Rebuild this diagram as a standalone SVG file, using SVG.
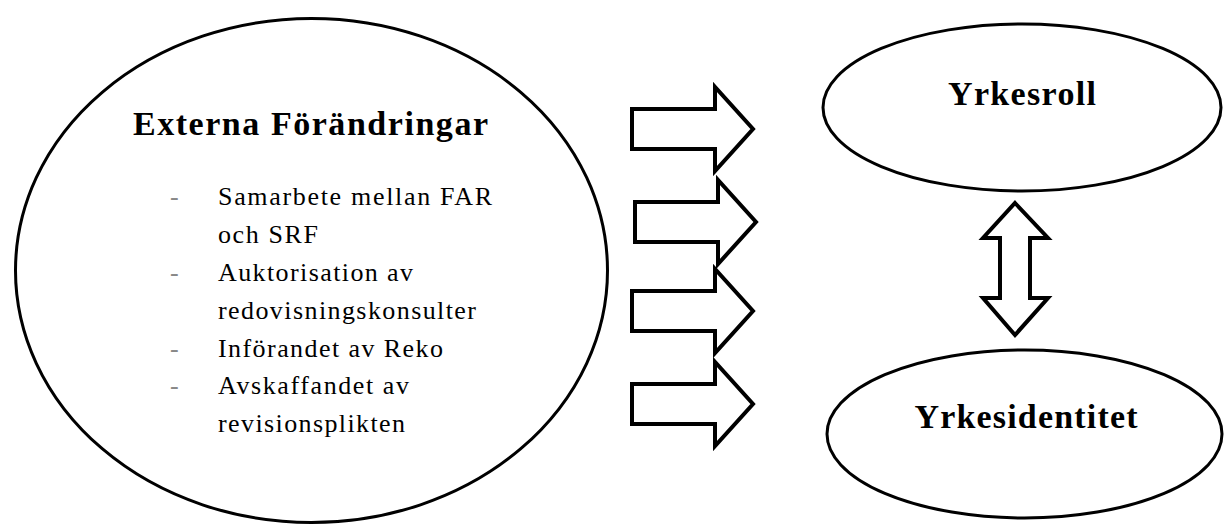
<svg xmlns="http://www.w3.org/2000/svg" xmlns:xlink="http://www.w3.org/1999/xlink" width="1225" height="525" viewBox="0 0 1225 525">
  <style>
    .shape { fill: #ffffff; stroke: #000000; stroke-width: 3; }
    .arrow { fill: #ffffff; stroke: #000000; stroke-width: 4; stroke-linejoin: miter; }
    .title { font-family: "Liberation Serif", "Times New Roman", serif; font-weight: bold; font-size: 34px; fill: #000000; }
    .item { font-family: "Liberation Serif", "Times New Roman", serif; font-size: 26px; fill: #000000; }
    .dash { font-family: "Liberation Serif", "Times New Roman", serif; font-size: 26px; fill: #888888; }
  </style>
  <defs>
    <path id="rightArrow" d="M0,-20 H83 V-42 L121,0 L83,42 V20 H0 Z"/>
  </defs>
  <rect x="0" y="0" width="1225" height="525" fill="#ffffff"/>

  <g id="externa">
    <ellipse class="shape" cx="311.5" cy="270.5" rx="296" ry="252"/>
    <text class="title" x="133" y="135" textLength="355" lengthAdjust="spacing">Externa Förändringar</text>
    <text class="dash" x="170" y="205">-</text>
    <text class="item" x="218" y="205" textLength="274" lengthAdjust="spacing">Samarbete mellan FAR</text>
    <text class="item" x="218" y="243" textLength="100" lengthAdjust="spacing">och SRF</text>
    <text class="dash" x="170" y="281">-</text>
    <text class="item" x="218" y="281" textLength="195" lengthAdjust="spacing">Auktorisation av</text>
    <text class="item" x="218" y="319" textLength="258" lengthAdjust="spacing">redovisningskonsulter</text>
    <text class="dash" x="170" y="357">-</text>
    <text class="item" x="218" y="357" textLength="225" lengthAdjust="spacing">Införandet av Reko</text>
    <text class="dash" x="170" y="394">-</text>
    <text class="item" x="218" y="394" textLength="191" lengthAdjust="spacing">Avskaffandet av</text>
    <text class="item" x="218" y="432" textLength="187" lengthAdjust="spacing">revisionsplikten</text>
  </g>

  <g id="yrkesroll">
    <ellipse class="shape" cx="1022" cy="107.5" rx="199" ry="83.5"/>
    <text class="title" x="1022" y="105" text-anchor="middle" textLength="148" lengthAdjust="spacing">Yrkesroll</text>
  </g>

  <g id="yrkesidentitet">
    <ellipse class="shape" cx="1024.5" cy="434" rx="197.5" ry="84"/>
    <text class="title" x="1026" y="428" text-anchor="middle" textLength="223" lengthAdjust="spacing">Yrkesidentitet</text>
  </g>

  <g id="connectors">
    <use xlink:href="#rightArrow" class="arrow" x="632" y="129"/>
    <use xlink:href="#rightArrow" class="arrow" x="635" y="222"/>
    <use xlink:href="#rightArrow" class="arrow" x="632" y="311"/>
    <use xlink:href="#rightArrow" class="arrow" x="632" y="404"/>
    <polygon class="arrow" points="1015,203 1048,238 1030,238 1030,298 1048,298 1015,335 983,298 1000,298 1000,238 983,238"/>
  </g>
</svg>
